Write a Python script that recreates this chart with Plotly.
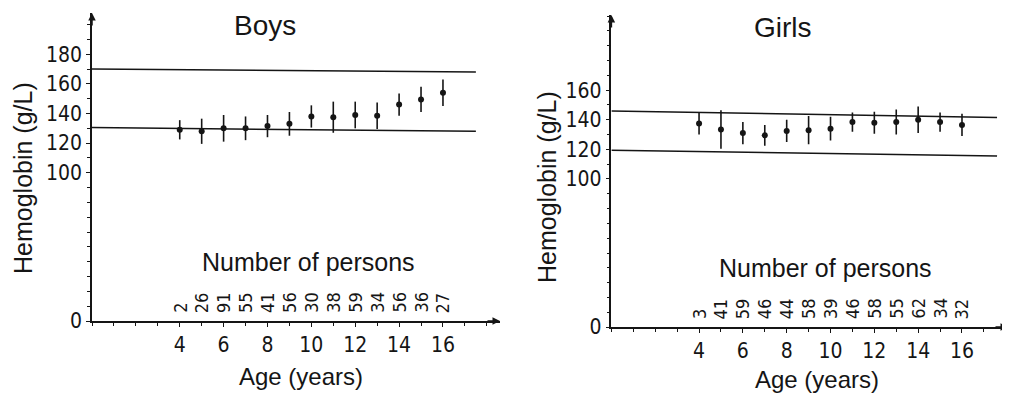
import plotly.graph_objects as go

# ---------------- data ----------------
ages = [4, 5, 6, 7, 8, 9, 10, 11, 12, 13, 14, 15, 16]

boys_mean = [129, 128, 130, 130, 131.5, 133, 138, 137.5, 139, 138.5, 146, 149.5, 154]
boys_sd = [6.5, 8.5, 9, 8, 7.5, 8, 7.5, 10.5, 9, 9, 7.5, 8.5, 9]
boys_n = [2, 26, 91, 55, 41, 56, 30, 38, 59, 34, 56, 36, 27]

girls_mean = [137.5, 133.5, 131, 129.5, 132.5, 133, 134, 138.5, 138, 138.5, 140, 138.5, 136.5]
girls_sd = [7.5, 13, 7.5, 7, 7.5, 9.5, 8, 6.5, 7.5, 8.5, 9, 6.5, 7.5]
girls_n = [3, 41, 59, 46, 44, 58, 39, 46, 58, 55, 62, 34, 32]

boys_ref_x = [0, 17.5]
boys_ref_upper = [170, 168]
boys_ref_lower = [130.5, 128]
girls_ref_x = [0, 17.6]
girls_ref_upper = [146, 141.5]
girls_ref_lower = [119.5, 115.5]

boys_y_ticks = [0, 100, 120, 140, 160, 180]
girls_y_ticks = [0, 100, 120, 140, 160]
x_ticks = [4, 6, 8, 10, 12, 14, 16]

# ---------------- style ----------------
# the page body has an 8px margin, so the figure is drawn 8px in from the corner
OFF = 8
W, H = 1010 - OFF, 393 - OFF
INK = "#151515"
NARROW = "Liberation Sans Narrow, DejaVu Sans Condensed, Arial Narrow, sans-serif"
SANS = "Liberation Sans, Arial, Helvetica, sans-serif"

def px(x):
    return (x - OFF) / W

def py(y):
    return (H - (y - OFF)) / H

fig = go.Figure()

panels = [
    dict(x="x", y="y", mean=boys_mean, sd=boys_sd, n=boys_n,
         rx=boys_ref_x, ru=boys_ref_upper, rl=boys_ref_lower),
    dict(x="x2", y="y2", mean=girls_mean, sd=girls_sd, n=girls_n,
         rx=girls_ref_x, ru=girls_ref_upper, rl=girls_ref_lower),
]

annotations = []
for p in panels:
    for ref in (p["ru"], p["rl"]):
        fig.add_trace(go.Scatter(x=p["rx"], y=ref, xaxis=p["x"], yaxis=p["y"],
                                 mode="lines", line=dict(color=INK, width=1.5),
                                 hoverinfo="skip", showlegend=False))
    fig.add_trace(go.Scatter(x=ages, y=p["mean"], xaxis=p["x"], yaxis=p["y"],
                             mode="markers",
                             marker=dict(color=INK, size=6),
                             error_y=dict(type="data", array=p["sd"], visible=True,
                                          color=INK, thickness=1.6, width=0),
                             showlegend=False))
    for a, n in zip(ages, p["n"]):
        annotations.append(dict(x=a, y=0, xref=p["x"], yref=p["y"], text=str(n),
                                showarrow=False, textangle=-90, xanchor="center",
                                yanchor="bottom", yshift=6,
                                font=dict(family=NARROW, size=18, color=INK)))

common_x = dict(showline=True, linecolor=INK, linewidth=1.5, showgrid=False,
                zeroline=False, tickmode="array", tickvals=x_ticks, ticks="outside",
                ticklen=4, tickcolor=INK, tickwidth=1,
                tickfont=dict(family=NARROW, size=21, color=INK),
                minor=dict(tickmode="linear", tick0=0, dtick=1, ticks="outside",
                           ticklen=3, tickcolor=INK, tickwidth=1),
                automargin=False, fixedrange=True)
common_y = dict(showline=True, linecolor=INK, linewidth=1.5, showgrid=False,
                zeroline=False, tickmode="array", ticks="outside",
                ticklen=4, tickcolor=INK, tickwidth=1,
                tickfont=dict(family=NARROW, size=21, color=INK),
                minor=dict(tickmode="linear", tick0=0, dtick=10, ticks="outside",
                           ticklen=3, tickcolor=INK, tickwidth=1),
                automargin=False, fixedrange=True)

fig.update_layout(
    xaxis=dict(common_x, domain=[px(92), px(500)], range=[0, 18.6], anchor="y"),
    yaxis=dict(common_y, domain=[py(321), py(13)], range=[0, 207.8],
               tickvals=boys_y_ticks, anchor="x"),
    xaxis2=dict(common_x, domain=[px(611.4), px(1008)], range=[0, 18.1], anchor="y2"),
    yaxis2=dict(common_y, domain=[py(327), py(15)], range=[0, 210.8],
                tickvals=girls_y_ticks, anchor="x2"),
)

# axis arrows
for xr, yr, xmax, ymax in (("x", "y", 18.6, 207.8), ("x2", "y2", 18.1, 210.8)):
    annotations.append(dict(x=0, y=ymax, xref=xr, yref=yr, ax=0, ay=14, text="",
                            showarrow=True, arrowhead=2, arrowsize=1, arrowwidth=1.5,
                            arrowcolor=INK))
    annotations.append(dict(x=xmax, y=0, xref=xr, yref=yr, ax=-14, ay=0, text="",
                            showarrow=True, arrowhead=2, arrowsize=1, arrowwidth=1.5,
                            arrowcolor=INK))

def label(text, x, y, size, angle=0):
    annotations.append(dict(x=px(x), y=py(y), xref="paper", yref="paper", text=text,
                            showarrow=False, textangle=angle, xanchor="center",
                            yanchor="middle", font=dict(family=SANS, size=size, color=INK)))

label("Boys", 265, 25, 28)
label("Girls", 783, 27, 28)
label("Hemoglobin (g/L)", 23, 178, 25, -90)
label("Hemoglobin (g/L)", 547, 187, 25, -90)
label("Number of persons", 308, 262, 25)
label("Number of persons", 825, 268, 25)
label("Age (years)", 301, 376, 24)
label("Age (years)", 817, 379, 24)

fig.update_layout(width=W, height=H, margin=dict(l=0, r=0, t=0, b=0),
                  paper_bgcolor="white", plot_bgcolor="white",
                  annotations=annotations, showlegend=False)

fig.write_html("out.html")
